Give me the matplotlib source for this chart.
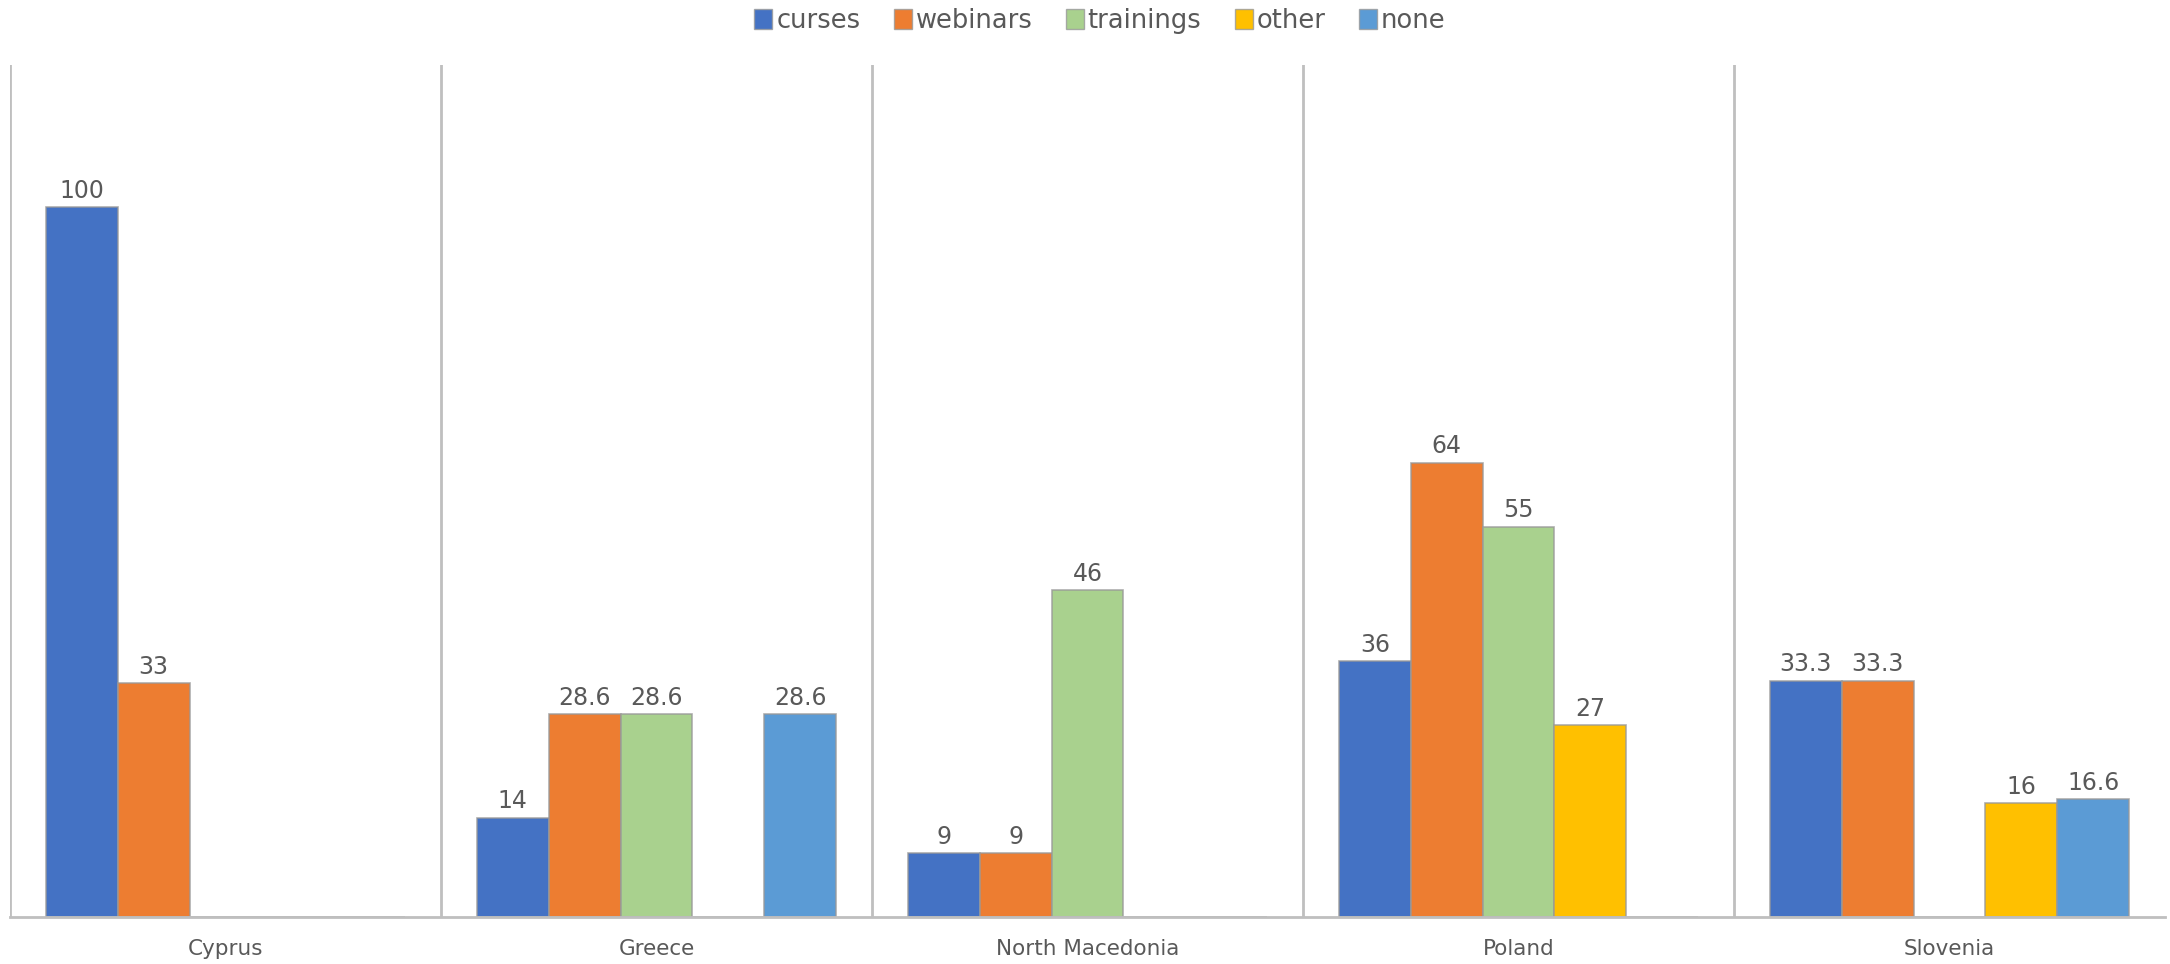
import numpy as np
import matplotlib
matplotlib.use("Agg")
import matplotlib.pyplot as plt
from matplotlib.patches import Patch

plt.rcParams['font.family'] = ['DejaVu Sans']

countries = ["Cyprus", "Greece", "North Macedonia", "Poland", "Slovenia"]
series_names = ["curses", "webinars", "trainings", "other", "none"]
curses = [100, 14, 9, 36, 33.3]
webinars = [33, 28.6, 9, 64, 33.3]
trainings = [np.nan, 28.6, 46, 55, np.nan]
other = [np.nan, np.nan, np.nan, 27, 16]
none = [np.nan, 28.6, np.nan, np.nan, 16.6]
label_text = {
    "curses": ["100", "14", "9", "36", "33.3"],
    "webinars": ["33", "28.6", "9", "64", "33.3"],
    "trainings": ["", "28.6", "46", "55", ""],
    "other": ["", "", "", "27", "16"],
    "none": ["", "28.6", "", "", "16.6"],
}
colors = ["#4472C4", "#ED7D31", "#A9D18E", "#FFC000", "#5B9BD5"]

series = [curses, webinars, trainings, other, none]

fig = plt.figure(figsize=(21.7, 9.64), dpi=100)
ax = fig.add_axes([10/2170, (964-917)/964, (2165-10)/2170, (917-65)/964])

n = len(series)
x = np.arange(len(countries))
w = 1.0 / (n + 1)
for i, (name, vals, c) in enumerate(zip(series_names, series, colors)):
    pos = x + (i - (n - 1) / 2) * w
    v = np.array(vals, dtype=float)
    bars = ax.bar(pos, np.nan_to_num(v), width=w, color=c,
                  edgecolor=(0.6, 0.6, 0.6, 0.8), linewidth=1.2)
    for b, val, t in zip(bars, v, label_text[name]):
        if not np.isnan(val) and t:
            ax.annotate(t, (b.get_x() + b.get_width() / 2, val),
                        xytext=(0, 3), textcoords="offset points",
                        ha="center", va="bottom", fontsize=17, color="#595959")

ax.set_xlim(-0.5, len(countries) - 0.5)
ax.set_ylim(0, 120)
ax.set_yticks([])
ax.set_xticks(x)
ax.set_xticklabels(countries, fontsize=15.5, color="#595959")
ax.tick_params(axis='x', length=0, pad=16)
for s in ["top", "right", "left"]:
    ax.spines[s].set_visible(False)
ax.spines["bottom"].set_color("#BFBFBF")
ax.spines["bottom"].set_linewidth(2)
for b in np.arange(len(countries)) - 0.5:
    ax.axvline(b, color="#BFBFBF", linewidth=2, zorder=0)

handles = [Patch(facecolor=c, edgecolor=(0.6, 0.6, 0.6, 0.8)) for c in colors]
fig.legend(handles, series_names, loc="center", bbox_to_anchor=(1100/2170, 1 - 21/964),
           ncol=5, frameon=False, fontsize=18.5, handlelength=0.7, handleheight=0.8,
           handletextpad=0.15, columnspacing=1.3, labelcolor="#595959")

fig.savefig("out.png", dpi=100, facecolor="white")
